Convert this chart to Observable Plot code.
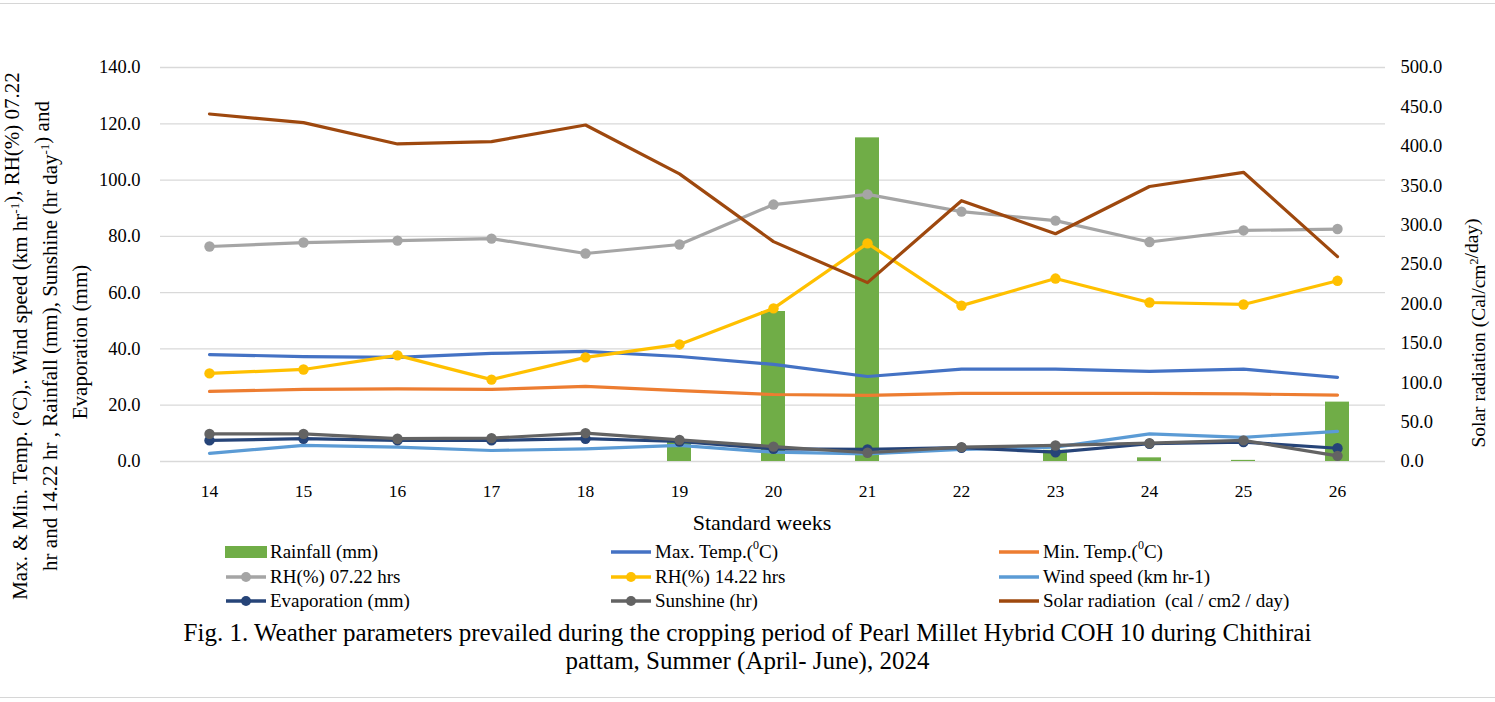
<!DOCTYPE html>
<html>
<head>
<meta charset="utf-8">
<script src="https://cdn.jsdelivr.net/npm/d3@7"></script>
<script src="https://cdn.jsdelivr.net/npm/@observablehq/plot@0.6"></script>
<style>
  body { margin: 0; background: #fff; font-family: "Liberation Serif", "Times New Roman", serif; }
  #wrap { position: relative; width: 1495px; height: 702px; overflow: hidden; }
  .rule { position: absolute; left: 0; width: 1495px; height: 0; border-top: 1.5px solid #d6d6d6; }
  .leg { position: absolute; display: flex; align-items: center; font-size: 19px; color: #000; white-space: nowrap; }
  .leg svg { margin-right: 3px; }
  .leg sup { font-size: 12px; position: relative; top: -2px; vertical-align: super; line-height: 0; }
  #caption { position: absolute; left: 0; width: 1495px; top: 619px; text-align: center; font-size: 25px; line-height: 28px; color: #000; }
</style>
</head>
<body>
<div id="wrap">
  <div class="rule" style="top:3px"></div>
  <div id="chart"></div>
  <div id="legend"></div>
  <div id="caption">Fig. 1. Weather parameters prevailed during the cropping period of Pearl Millet Hybrid COH 10 during Chithirai<br>pattam, Summer (April- June), 2024</div>
  <div class="rule" style="top:697px"></div>
</div>
<script>
// ---- data ----
const weeks = [14, 15, 16, 17, 18, 19, 20, 21, 22, 23, 24, 25, 26];
const rainfall = [0, 0, 0, 0, 0, 7.0, 53.3, 115.0, 0, 4.0, 1.3, 0.4, 21.1];
const maxTemp = [38.0, 37.3, 37.0, 38.4, 39.1, 37.3, 34.5, 30.2, 32.8, 32.8, 32.0, 32.8, 29.9];
const minTemp = [24.9, 25.6, 25.8, 25.6, 26.7, 25.2, 23.8, 23.5, 24.2, 24.2, 24.2, 24.0, 23.6];
const rh0722 = [76.4, 77.8, 78.5, 79.2, 73.9, 77.1, 91.3, 94.9, 88.8, 85.6, 78.0, 82.1, 82.6];
const rh1422 = [31.3, 32.7, 37.7, 29.1, 37.0, 41.6, 54.4, 77.5, 55.4, 65.0, 56.5, 55.8, 64.2];
const windSpeed = [2.9, 5.7, 5.1, 3.9, 4.5, 5.7, 3.3, 2.7, 4.3, 5.1, 9.8, 8.6, 10.7];
const evaporation = [7.5, 8.1, 7.5, 7.5, 8.1, 7.1, 4.5, 4.3, 4.9, 3.3, 6.3, 6.9, 4.7];
const sunshine = [9.8, 9.8, 8.1, 8.3, 10.1, 7.7, 5.3, 3.1, 5.1, 5.7, 6.5, 7.5, 2.0];
const solarRadiation = [441, 430, 403, 406, 427, 365, 279, 227, 331, 289, 349, 367, 260];

const leftTicks = [0, 20, 40, 60, 80, 100, 120, 140];
const rightTicks = [0, 50, 100, 150, 200, 250, 300, 350, 400, 450, 500];

const colors = {
  rain: "#70AD47", maxT: "#4472C4", minT: "#ED7D31", rh1: "#A5A5A5", rh2: "#FFC000",
  wind: "#5B9BD5", evap: "#264478", sun: "#636363", solar: "#9E480E"
};

// ---- table ----
const k = 140 / 500; // secondary axis mapped onto primary
const rows = weeks.map((w, i) => ({
  week: w, rain: rainfall[i], maxT: maxTemp[i], minT: minTemp[i], rh1: rh0722[i], rh2: rh1422[i],
  wind: windSpeed[i], evap: evaporation[i], sun: sunshine[i], solar: solarRadiation[i] * k
}));

const font = '"Liberation Serif", "Times New Roman", serif';
const W = 1495, H = 540, mT = 67, mB = 79, mL = 160, mR = 110;

const lineSeries = [
  {key: "maxT", dot: false}, {key: "minT", dot: false}, {key: "rh1", dot: true}, {key: "rh2", dot: true},
  {key: "wind", dot: false}, {key: "evap", dot: true}, {key: "sun", dot: true}, {key: "solar", dot: false}
];

const marks = [
  Plot.gridY(leftTicks, {stroke: "#d9d9d9", strokeOpacity: 1, strokeWidth: 1.3}),
  Plot.barY(rows, {x: "week", y: "rain", fill: colors.rain, insetLeft: 35, insetRight: 35}),
];
for (const s of lineSeries) {
  marks.push(Plot.line(rows, {x: "week", y: s.key, stroke: colors[s.key], strokeWidth: 3.2}));
  if (s.dot) marks.push(Plot.dot(rows, {x: "week", y: s.key, fill: colors[s.key], r: 5.2, stroke: "none"}));
}
marks.push(
  Plot.axisY(leftTicks, {anchor: "left", tickSize: 0, tickPadding: 20, tickFormat: d => d.toFixed(1), fontSize: 18.5, label: null}),
  Plot.axisY(rightTicks.map(v => v * k), {anchor: "right", tickSize: 0, tickPadding: 15, tickFormat: d => (d / k).toFixed(1), fontSize: 18.5, label: null}),
  Plot.axisX({tickSize: 0, tickPadding: 23, fontSize: 17.5, label: null})
);

const svg = Plot.plot({
  width: W, height: H, marginTop: mT, marginBottom: mB, marginLeft: mL, marginRight: mR,
  style: {fontFamily: font, color: "#000", background: "#fff", overflow: "visible"},
  x: {type: "band", domain: weeks, padding: 0},
  y: {domain: [0, 140]},
  marks
});
document.getElementById("chart").appendChild(svg);

// ---- axis titles with superscripts ----
const s = d3.select(svg);
const plotCy = 336;
function richText(g, parts, x, y, size, rotate) {
  const t = g.append("text").attr("text-anchor", "middle").attr("font-size", size).attr("font-family", font)
    .attr("fill", "#000")
    .attr("transform", `translate(${x},${y})` + (rotate ? ` rotate(${rotate})` : ""));
  for (const p of parts) {
    if (typeof p === "string") t.append("tspan").text(p);
    else {
      t.append("tspan").attr("font-size", size * 0.62).attr("dy", -size * 0.38).text(p.sup);
      t.append("tspan").attr("dy", size * 0.38).text("");
    }
  }
  return t;
}
const lt = s.append("g");
richText(lt, ["Max. & Min. Temp. (°C),. Wind speed (km hr", {sup: "-1"}, "), RH(%) 07.22"], 27, plotCy, 21, -90);
richText(lt, ["hr and 14.22 hr , Rainfall (mm), Sunshine (hr day", {sup: "-1"}, ") and"], 57, plotCy, 21, -90);
richText(lt, ["Evaporation (mm)"], 87, plotCy + 6, 21, -90);
richText(s, ["Solar radiation (Cal/cm", {sup: "2"}, "/day)"], 1485, 333, 19.5, -90);
richText(s, ["Standard weeks"], 762, 530, 22, 0);

// ---- legend ----
const legend = document.getElementById("legend");
const rowsY = [552, 577, 601];
const colsX = [225, 610, 998];
const legItems = [
  {label: "Rainfall (mm)", c: colors.rain, type: "bar"},
  {label: "Max. Temp.(<sup>0</sup>C)", c: colors.maxT, type: "line"},
  {label: "Min. Temp.(<sup>0</sup>C)", c: colors.minT, type: "line"},
  {label: "RH(%) 07.22 hrs", c: colors.rh1, type: "dot"},
  {label: "RH(%) 14.22 hrs", c: colors.rh2, type: "dot"},
  {label: "Wind speed (km hr-1)", c: colors.wind, type: "line"},
  {label: "Evaporation (mm)", c: colors.evap, type: "dot"},
  {label: "Sunshine (hr)", c: colors.sun, type: "dot"},
  {label: "Solar radiation&nbsp; (cal / cm2 / day)", c: colors.solar, type: "line"}
];
legItems.forEach((it, i) => {
  const r = Math.floor(i / 3), c = i % 3;
  const d = document.createElement("div");
  d.className = "leg";
  d.style.left = colsX[c] + "px";
  d.style.top = (rowsY[r] - 12) + "px";
  d.style.height = "24px";
  let sw;
  if (it.type === "bar") sw = `<svg width="42" height="14"><rect x="0" y="1" width="42" height="12" fill="${it.c}"/></svg>`;
  else if (it.type === "line") sw = `<svg width="42" height="14"><line x1="1" x2="41" y1="7" y2="7" stroke="${it.c}" stroke-width="3.5"/></svg>`;
  else sw = `<svg width="42" height="14"><line x1="1" x2="41" y1="7" y2="7" stroke="${it.c}" stroke-width="3.5"/><circle cx="21" cy="7" r="5" fill="${it.c}"/></svg>`;
  d.innerHTML = sw + `<span>${it.label}</span>`;
  legend.appendChild(d);
});
</script>
</body>
</html>
